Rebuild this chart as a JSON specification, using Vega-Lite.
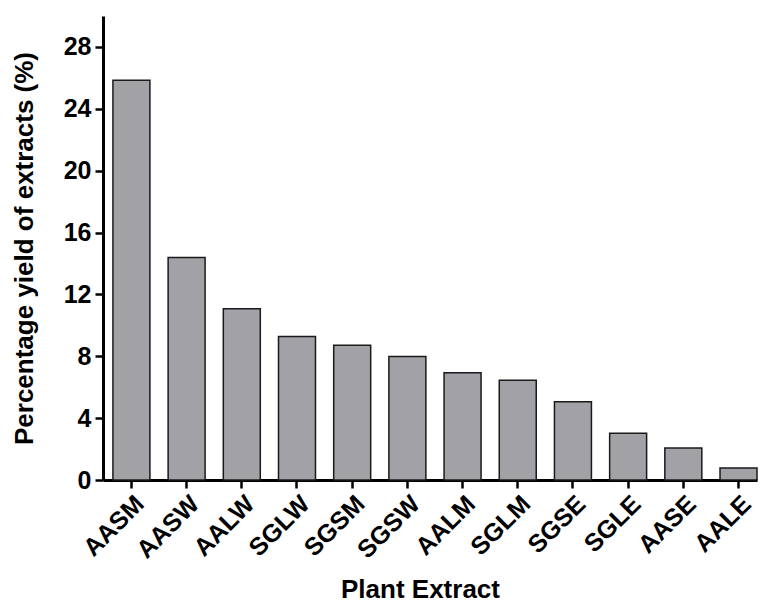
{
  "$schema": "https://vega.github.io/schema/vega-lite/v6.json",
  "autosize": "none",
  "width": 654,
  "height": 464,
  "padding": {"left": 103, "top": 16, "right": 3, "bottom": 123},
  "background": "white",
  "config": {
    "view": {"stroke": null},
    "font": "Liberation Sans"
  },
  "data": {
    "values": [
      {"extract": "AASM", "yield": 25.85},
      {"extract": "AASW", "yield": 14.38},
      {"extract": "AALW", "yield": 11.08},
      {"extract": "SGLW", "yield": 9.27},
      {"extract": "SGSM", "yield": 8.71},
      {"extract": "SGSW", "yield": 7.98},
      {"extract": "AALM", "yield": 6.94},
      {"extract": "SGLM", "yield": 6.45},
      {"extract": "SGSE", "yield": 5.06},
      {"extract": "SGLE", "yield": 3.02},
      {"extract": "AASE", "yield": 2.07},
      {"extract": "AALE", "yield": 0.78}
    ]
  },
  "mark": {"type": "bar", "fill": "#a2a1a6", "stroke": "#1a1a1a", "strokeWidth": 1.5},
  "encoding": {
    "x": {
      "field": "extract",
      "type": "nominal",
      "sort": null,
      "scale": {"paddingInner": 0.33, "paddingOuter": 0.09, "align": 1},
      "axis": {
        "title": "Plant Extract",
        "titleFont": "Liberation Sans",
        "titleFontSize": 26,
        "titleFontWeight": "bold",
        "titleColor": "black",
        "titlePadding": 14,
        "titleX": 317,
        "labelAngle": -45,
        "labelAlign": "right",
        "labelBaseline": "top",
        "labelFont": "Liberation Sans",
        "labelFontSize": 25,
        "labelFontWeight": "bold",
        "labelColor": "black",
        "labelPadding": 3,
        "domainColor": "black",
        "domainWidth": 3,
        "tickColor": "black",
        "tickWidth": 2.5,
        "tickSize": 8
      }
    },
    "y": {
      "field": "yield",
      "type": "quantitative",
      "scale": {"domain": [0, 30], "nice": false},
      "axis": {
        "title": "Percentage yield of extracts (%)",
        "titleFont": "Liberation Sans",
        "titleFontSize": 26,
        "titleFontWeight": "bold",
        "titleColor": "black",
        "titlePadding": 26,
        "values": [0, 4, 8, 12, 16, 20, 24, 28],
        "grid": false,
        "labelFont": "Liberation Sans",
        "labelFontSize": 25,
        "labelFontWeight": "bold",
        "labelColor": "black",
        "labelPadding": 4,
        "domainColor": "black",
        "domainWidth": 3,
        "tickColor": "black",
        "tickWidth": 2.5,
        "tickSize": 8
      }
    }
  }
}
